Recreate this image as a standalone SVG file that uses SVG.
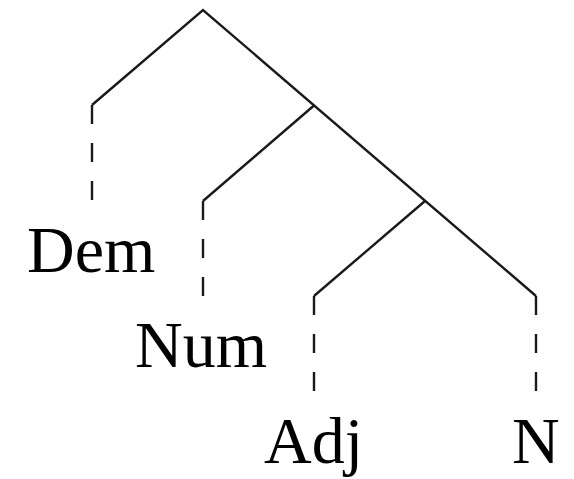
<svg xmlns="http://www.w3.org/2000/svg" width="574" height="479" viewBox="0 0 574 479">
<style>
.e{fill:none;stroke:#1a1a1a;stroke-width:2.4;stroke-linejoin:miter}
.d{fill:none;stroke:#1a1a1a;stroke-width:2.4;stroke-dasharray:19 19}
.t{font-family:"Liberation Serif","Times New Roman",serif;font-size:66px;fill:#000}
</style>
<rect width="574" height="479" fill="#fff"/>
<g id="connectors">
<polyline class="e" points="92,105 203,10 536,296"/>
<polyline class="e" points="203,201 314,105.5"/>
<polyline class="e" points="314,296 425,201"/>
<line class="d" x1="92" y1="105" x2="92" y2="200"/>
<line class="d" x1="203" y1="201" x2="203" y2="296"/>
<line class="d" x1="314" y1="296" x2="314" y2="391"/>
<line class="d" x1="536" y1="296" x2="536" y2="391"/>
</g>
<g id="dem"><text class="t" x="27" y="272">Dem</text></g>
<g id="num"><text class="t" x="135" y="367">Num</text></g>
<g id="adj"><text class="t" x="264" y="463">Adj</text></g>
<g id="n"><text class="t" x="512" y="463">N</text></g>
</svg>
